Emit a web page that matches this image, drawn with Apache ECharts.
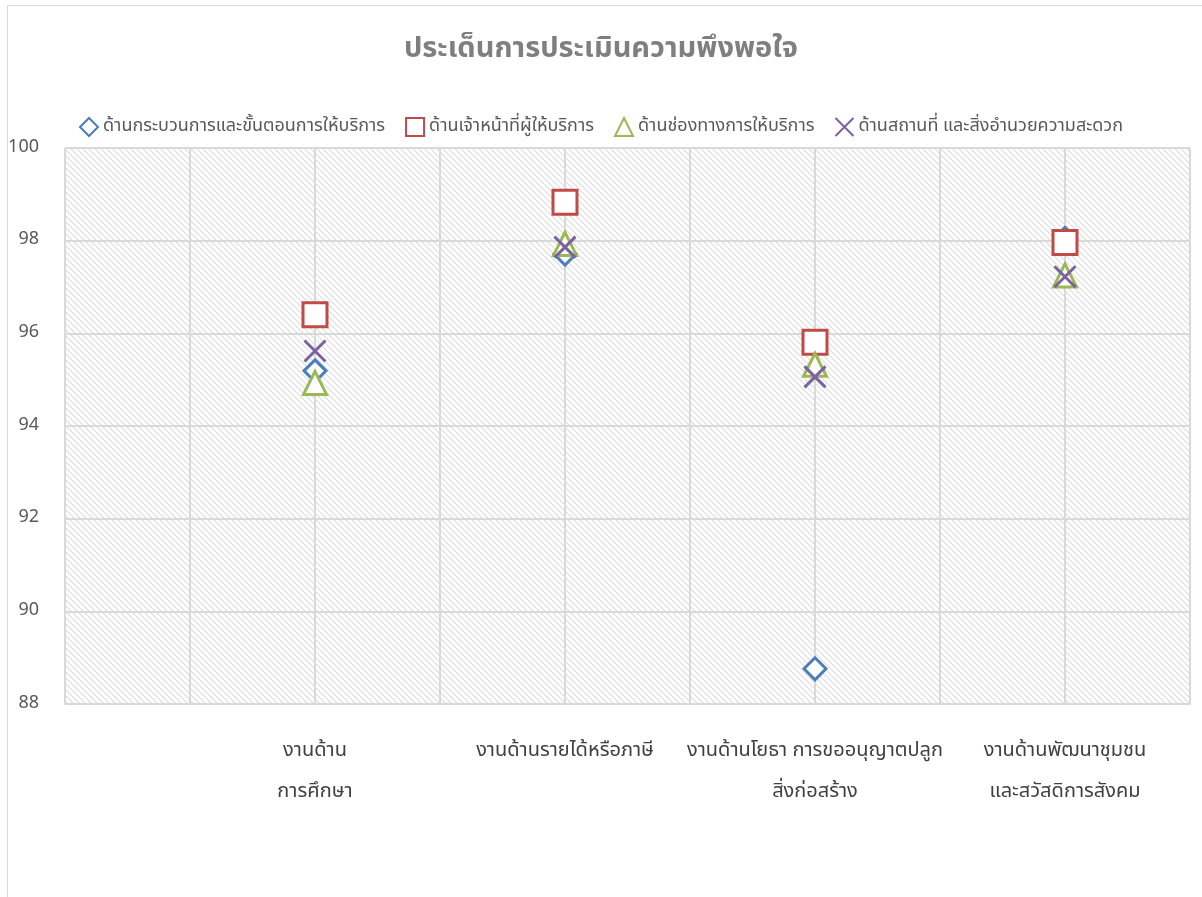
<!DOCTYPE html>
<html>
<head>
<meta charset="UTF-8">
<title>ประเด็นการประเมินความพึงพอใจ</title>
<script src="https://cdn.jsdelivr.net/npm/echarts@6/dist/echarts.min.js"></script>
<style>
  html, body { margin: 0; padding: 0; background: #fff; overflow: hidden; }
  #frame { position: absolute; left: 7px; top: 5px; width: 1300px; height: 1000px; border: 1px solid #d9d9d9; }
  #main { position: absolute; left: 0; top: 0; width: 1202px; height: 897px; }
</style>
</head>
<body>
<div id="frame"></div>
<div id="main"></div>
<script>
// ข้อมูล
var categories = ['งานด้าน\nการศึกษา', 'งานด้านรายได้หรือภาษี', 'งานด้านโยธา การขออนุญาตปลูก\nสิ่งก่อสร้าง', 'งานด้านพัฒนาชุมชน\nและสวัสดิการสังคม'];
var xPositions = [2, 4, 6, 8];
var seriesNames = ['ด้านกระบวนการและขั้นตอนการให้บริการ', 'ด้านเจ้าหน้าที่ผู้ให้บริการ', 'ด้านช่องทางการให้บริการ', 'ด้านสถานที่ และสิ่งอำนวยความสะดวก'];
var processValues = [95.19, 97.71, 88.76, 98.05];
var staffValues = [96.40, 98.83, 95.81, 97.96];
var channelValues = [94.93, 97.93, 95.32, 97.25];
var placeValues = [95.62, 97.86, 95.06, 97.22];
var yTicks = [88, 90, 92, 94, 96, 98, 100];

var FONT = "'Noto Sans Thai', 'Noto Sans', 'DejaVu Sans', sans-serif";

// ลายเส้นทแยงพื้นหลัง
function makeHatch() {
  var c = document.createElement('canvas');
  c.width = 6; c.height = 6;
  var g = c.getContext('2d');
  g.fillStyle = '#ffffff';
  g.fillRect(0, 0, 6, 6);
  g.strokeStyle = '#dcdcdc';
  g.lineWidth = 1.1;
  g.beginPath();
  g.moveTo(-1, -1); g.lineTo(7, 7);
  g.moveTo(-4, 2); g.lineTo(4, 10);
  g.moveTo(2, -4); g.lineTo(10, 4);
  g.stroke();
  return c;
}

function pairs(vals) {
  return vals.map(function (v, i) { return [xPositions[i], v]; });
}

var labelMap = {};
xPositions.forEach(function (x, i) { labelMap[x] = categories[i]; });

var colors = ['#4a7ebb', '#be4b48', '#98b954', '#7d60a0'];
var symbols = ['diamond', 'rect', 'triangle', 'path://M0,0L10,10M10,0L0,10'];
var sizes = [22, 24, 23, 21];
var allValues = [processValues, staffValues, channelValues, placeValues];

var series = allValues.map(function (vals, i) {
  return {
    name: seriesNames[i],
    type: 'scatter',
    data: pairs(vals),
    symbol: symbols[i],
    symbolSize: sizes[i],
    itemStyle: {
      color: i === 3 ? colors[i] : '#ffffff',
      borderColor: colors[i],
      borderWidth: 3,
      opacity: 1
    },
    z: 2 + i
  };
});

var chart = echarts.init(document.getElementById('main'));
chart.setOption({
  animation: false,
  title: {
    text: 'ประเด็นการประเมินความพึงพอใจ',
    left: 'center',
    top: 32,
    textStyle: { fontFamily: FONT, fontSize: 29, fontWeight: 'bold', color: '#7f7f7f' }
  },
  legend: {
    top: 112,
    left: 'center',
    itemGap: 20,
    itemWidth: 18,
    itemHeight: 18,
    textStyle: { fontFamily: FONT, fontSize: 18, color: '#595959' },
    data: seriesNames
  },
  grid: {
    left: 65, top: 148, right: 12, bottom: 193,
    show: true,
    borderWidth: 0,
    backgroundColor: { image: makeHatch(), repeat: 'repeat' }
  },
  xAxis: {
    type: 'value',
    min: 0, max: 9, interval: 1,
    axisLine: { show: true, lineStyle: { color: '#d9d9d9', width: 1.5 } },
    axisTick: { show: false },
    splitLine: { show: true, lineStyle: { color: '#d9d9d9', width: 2 } },
    axisLabel: {
      margin: 27,
      fontFamily: FONT, fontSize: 20, color: '#404040', lineHeight: 41,
      formatter: function (v) { return labelMap[v] || ''; }
    }
  },
  yAxis: {
    type: 'value',
    min: yTicks[0], max: yTicks[yTicks.length - 1], interval: 2,
    axisLine: { show: false },
    axisTick: { show: false },
    splitLine: { show: true, lineStyle: { color: '#d9d9d9', width: 2 } },
    axisLabel: { margin: 26, fontFamily: FONT, fontSize: 18, color: '#595959' }
  },
  series: series
});
</script>
</body>
</html>
